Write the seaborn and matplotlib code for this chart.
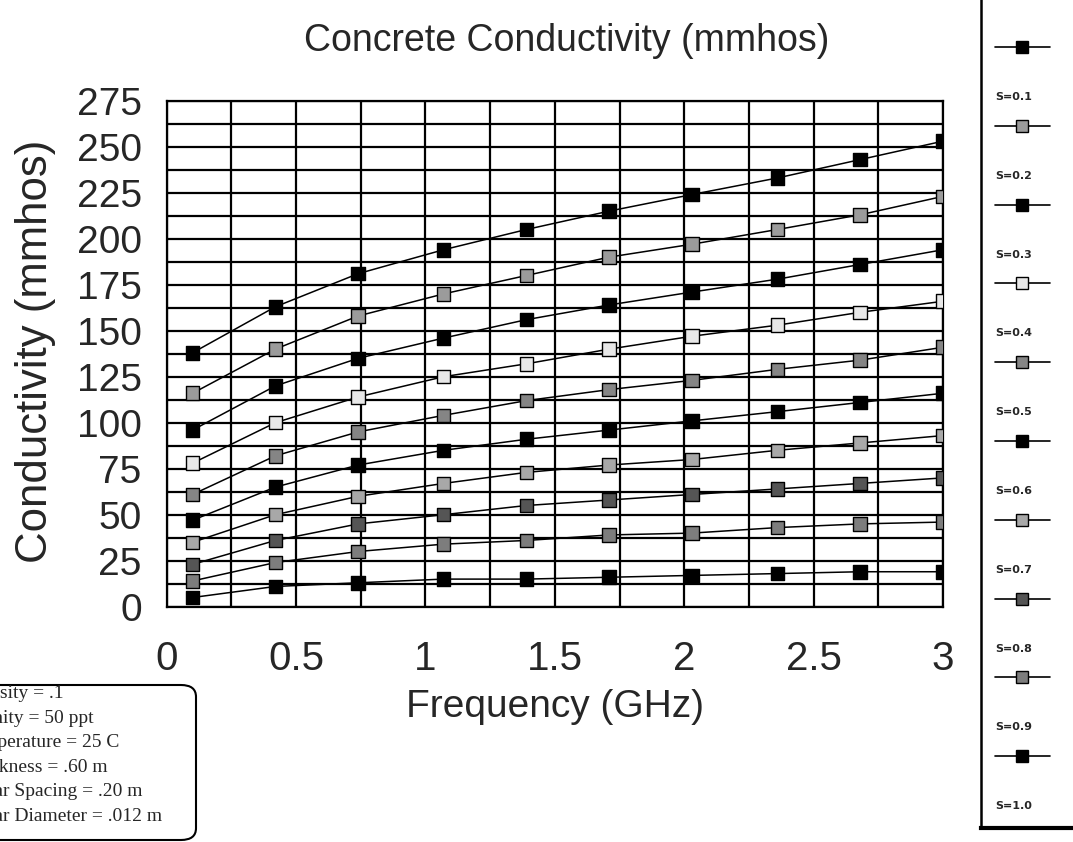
import matplotlib
matplotlib.use("Agg")
import matplotlib.pyplot as plt
from matplotlib.patches import FancyBboxPatch
import pandas as pd
import seaborn as sns

# frequency points (GHz) shared by all curves
freq_ghz = [0.1, 0.42, 0.74, 1.07, 1.39, 1.71, 2.03, 2.36, 2.68, 3.0]

series_labels = ["S=0.1", "S=0.2", "S=0.3", "S=0.4", "S=0.5",
                 "S=0.6", "S=0.7", "S=0.8", "S=0.9", "S=1.0"]

# conductivity (mmhos), curves listed from top to bottom of the chart
cond_1 = [138, 163, 181, 194, 205, 215, 224, 233, 243, 253]
cond_2 = [116, 140, 158, 170, 180, 190, 197, 205, 213, 223]
cond_3 = [96, 120, 135, 146, 156, 164, 171, 178, 186, 194]
cond_4 = [78, 100, 114, 125, 132, 140, 147, 153, 160, 166]
cond_5 = [61, 82, 95, 104, 112, 118, 123, 129, 134, 141]
cond_6 = [47, 65, 77, 85, 91, 96, 101, 106, 111, 116]
cond_7 = [35, 50, 60, 67, 73, 77, 80, 85, 89, 93]
cond_8 = [23, 36, 45, 50, 55, 58, 61, 64, 67, 70]
cond_9 = [14, 24, 30, 34, 36, 39, 40, 43, 45, 46]
cond_10 = [5, 11, 13, 15, 15, 16, 17, 18, 19, 19]
all_series = [cond_1, cond_2, cond_3, cond_4, cond_5,
              cond_6, cond_7, cond_8, cond_9, cond_10]

# marker fill for each curve (the old chart used black / hatched / white boxes)
marker_faces = ["black", "#9b9b9b", "black", "#e8e8e8", "#858585",
                "black", "#a8a8a8", "#555555", "#7d7d7d", "black"]

info_lines = ["Porosity = .1", "Salinity = 50 ppt", "Temperature = 25 C",
              "Thickness = .60 m", "Rebar Spacing = .20 m",
              "Rebar Diameter = .012 m"]

x_ticks = [0, 0.5, 1, 1.5, 2, 2.5, 3]
x_tick_labels = ["0", "0.5", "1", "1.5", "2", "2.5", "3"]
y_ticks = list(range(0, 276, 25))

# long table for seaborn
rows = []
for label, values in zip(series_labels, all_series):
    for f, v in zip(freq_ghz, values):
        rows.append({"freq": f, "cond": v, "series": label})
df = pd.DataFrame(rows)

sns.set_style("white")
plt.rcParams["font.family"] = ["Liberation Sans", "DejaVu Sans"]

W, H = 1073, 842
fig = plt.figure(figsize=(W / 100, H / 100), dpi=100)
ax = fig.add_axes([166.7 / W, (H - 606.7) / H, 776.3 / W, 506 / H])

sns.lineplot(data=df, x="freq", y="cond", hue="series",
             palette={s: "black" for s in series_labels},
             linewidth=1.1, legend=False, ax=ax, zorder=2)
sns.scatterplot(data=df, x="freq", y="cond", hue="series",
                palette=dict(zip(series_labels, marker_faces)),
                marker="s", s=95, edgecolor="black", linewidth=1.0,
                legend=False, ax=ax, zorder=3)

ax.set_xlim(0, 3)
ax.set_ylim(0, 275)
ax.set_xticks(x_ticks)
ax.set_xticklabels(x_tick_labels)
ax.set_xticks([0.25 + 0.5 * i for i in range(6)], minor=True)
ax.set_yticks(y_ticks)
ax.set_yticks([12.5 + 25 * i for i in range(11)], minor=True)
ax.grid(True, which="both", color="black", linewidth=1.6)
ax.set_axisbelow(True)
for sp in ax.spines.values():
    sp.set_visible(True)
    sp.set_color("black")
    sp.set_linewidth(1.6)
ax.tick_params(axis="both", which="both", direction="out", length=6,
               width=1.2, color="black")
ax.tick_params(axis="y", labelsize=28, pad=12)
ax.tick_params(axis="x", labelsize=29, pad=18)

ax.set_title("Concrete Conductivity (mmhos)", fontsize=27, pad=36,
             x=0.515)
ax.set_xlabel("Frequency (GHz)", fontsize=28, labelpad=8)
ax.set_ylabel("Conductivity (mmhos)", fontsize=31.5)
ax.yaxis.set_label_coords(-0.143, 0.505)

# legend panel on the right edge (partly cut off like the scan)
leg_ax = fig.add_axes([981 / W, (H - 828) / H, 0.15, 0.99])
leg_ax.set_xlim(981, 981 + 0.15 * W)
leg_ax.set_ylim(828, 828 - 0.99 * H)
leg_ax.set_xticks([])
leg_ax.set_yticks([])
for sp in leg_ax.spines.values():
    sp.set_linewidth(1.8)
    sp.set_color("black")
leg_ax.spines["bottom"].set_linewidth(3)
row_step = 78.8
for k, (label, face) in enumerate(zip(series_labels, marker_faces)):
    y_mark = 47 + k * row_step
    leg_ax.plot([995, 1050], [y_mark, y_mark], color="black", lw=1.2)
    leg_ax.plot([1022], [y_mark], marker="s", ms=9, mfc=face, mec="black")
    leg_ax.text(995, y_mark + 50, label, fontsize=8, fontweight="bold",
                family="DejaVu Sans", ha="left", va="center")

# parameter box in the lower left corner (cut off by the page edge)
box = FancyBboxPatch((-40 / W, 2 / H), (196 + 40) / W, 155 / H,
                     boxstyle="round,pad=0,rounding_size=0.014",
                     transform=fig.transFigure, facecolor="white",
                     edgecolor="black", linewidth=1.5)
fig.add_artist(box)
fig.text(-37 / W, 1 - 685 / H, "\n".join(info_lines), ha="left", va="top",
         fontsize=14, family="Liberation Serif", linespacing=1.58)

fig.savefig("out.png", dpi=100)
